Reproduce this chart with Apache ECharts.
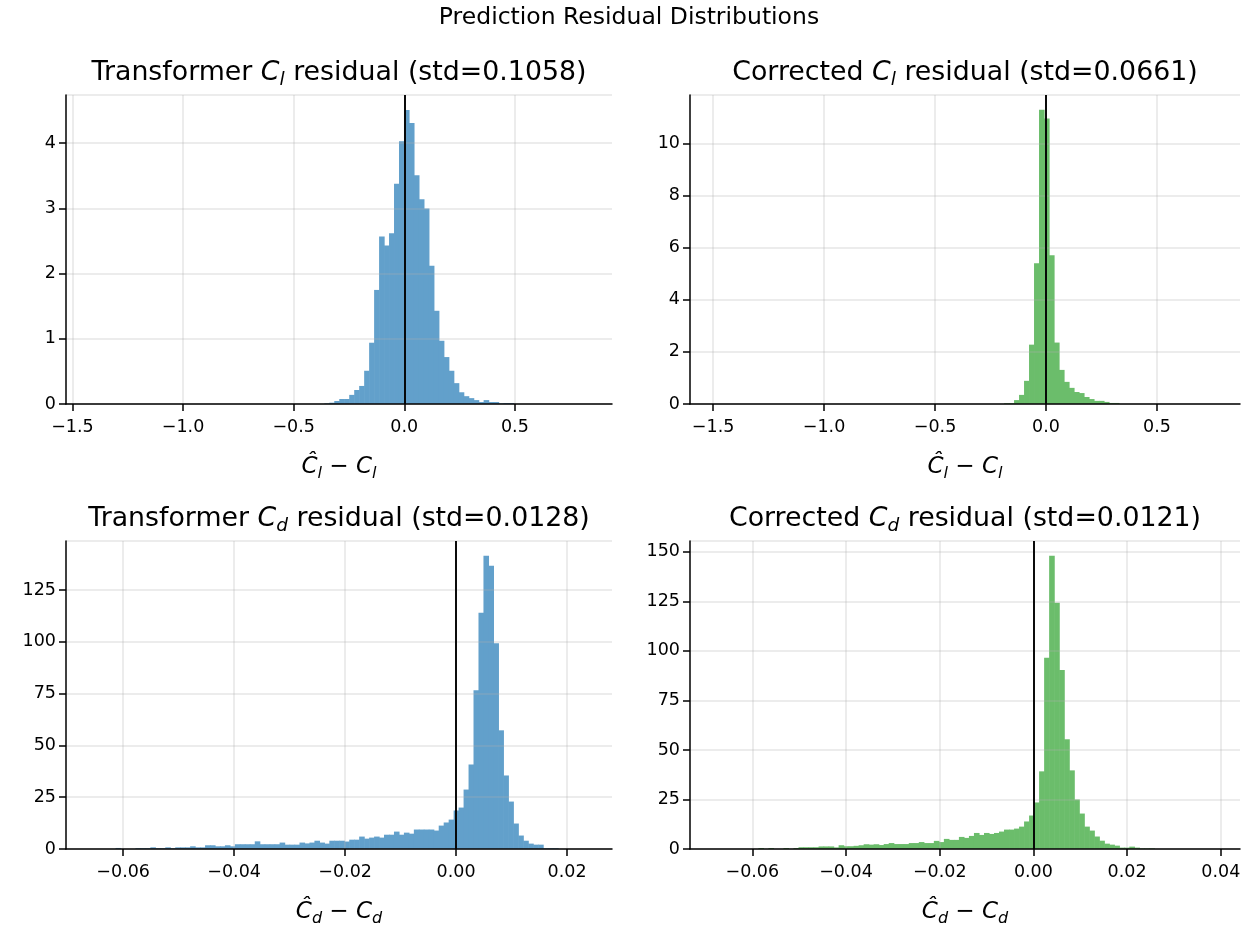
<!DOCTYPE html>
<html>
<head>
<meta charset="utf-8">
<script src="https://cdn.jsdelivr.net/npm/echarts@6.0.0/dist/echarts.min.js"></script>
<style>
html,body{margin:0;padding:0;background:#fff;}
#chart{width:1255px;height:930px;}
</style>
</head>
<body>
<div id="chart"></div>
<script>
// ---------------- DATA ----------------
const suptitleText = 'Prediction Residual Distributions';

// Transformer C_l residual histogram (density)
const clTransBinStart = -0.3613;
const clTransBinWidth = 0.0225;
const clTransDensity = [0.01, 0.02, 0.046, 0.077, 0.077, 0.14, 0.215, 0.277, 0.51, 0.94, 1.75, 2.57, 2.43, 2.62, 3.38, 4.03,
  4.51, 4.31, 3.51, 3.14, 3.0, 2.12, 1.43, 0.97, 0.72, 0.51, 0.32, 0.18, 0.12, 0.09, 0.06, 0.03, 0.06, 0.03, 0.03, 0.01, 0.015, 0.015];

// Corrected C_l residual histogram (density)
const clCorrBinStart = -0.189;
const clCorrBinWidth = 0.0225;
const clCorrDensity = [0.03, 0.03, 0.15, 0.35, 0.89, 2.28, 5.41, 11.3, 10.97, 5.71, 2.36, 1.31, 0.85, 0.62, 0.46, 0.42, 0.27, 0.19, 0.12, 0.12, 0.08, 0.04, 0.04];

// Transformer C_d residual histogram (density)
const cdTransBinStart = -0.06137;
const cdTransBinWidth = 0.000896;
const cdTransDensity = [0.5, 0, 0, 0, 0.4, 0.4, 0.4, 0.8, 0.4, 0.4, 0.8, 0.4, 0.8, 0.8, 0.8, 1.3, 0.8, 0.8, 1.8, 1.8,
  1.3, 1.3, 1.8, 1.3, 2.3, 2.3, 2.3, 2.3, 3.7, 2.3, 2.3, 2.3, 2.3, 3.1, 2.1, 2.1, 2.1, 3.1, 2.7, 3.1,
  4.0, 3.1, 2.6, 4.0, 4.0, 4.0, 3.6, 4.5, 4.5, 6.0, 5.0, 5.5, 6.0, 5.5, 6.9, 6.9, 8.4, 6.9, 7.9, 7.4,
  9.4, 9.4, 9.4, 9.4, 8.9, 11.3, 12.8, 14.2, 18.6, 20.0, 28.7, 40.8, 76.7, 114, 141.6, 136.8, 99.3, 57.3, 35.5, 22.9,
  12.3, 6.5, 4.0, 2.6, 2.1, 2.1, 0.4, 0.4, 0.4];

// Corrected C_d residual histogram (density)
const cdCorrBinStart = -0.0587;
const cdCorrBinWidth = 0.00107;
const cdCorrDensity = [0.5, 0, 0.5, 0, 0, 0.5, 0, 0.5, 0.9, 0.9, 0.9, 0.9, 1.3, 1.3, 1.3, 0.8, 1.9, 1.4, 1.4, 1.6,
  1.9, 2.4, 2.2, 2.4, 2.0, 2.5, 3.0, 2.5, 2.5, 2.5, 3.0, 3.0, 3.5, 3.0, 3.0, 4.1, 3.5, 5.1, 4.6, 4.6,
  6.1, 5.6, 6.6, 8.1, 7.1, 8.1, 7.6, 8.1, 8.8, 9.8, 9.8, 10.3, 11.3, 13.9, 16.9,
  23.5, 39.2, 96.5, 148.1, 124.3, 90.4, 55.4, 39.7, 25.0, 17.9, 11.3, 9.3, 6.3, 4.2, 2.7, 2.2, 1.7, 0.7, 0.7, 1.2, 0.7, 0.3, 0.3, 0.3];

// Axis ticks
const clXTicks = [-1.5, -1.0, -0.5, 0.0, 0.5];
const cdTransXTicks = [-0.06, -0.04, -0.02, 0.0, 0.02];
const cdCorrXTicks = [-0.06, -0.04, -0.02, 0.0, 0.02, 0.04];

const panelTitles = [
  ['Transformer ', 'l', ' residual (std=0.1058)'],
  ['Corrected ', 'l', ' residual (std=0.0661)'],
  ['Transformer ', 'd', ' residual (std=0.0128)'],
  ['Corrected ', 'd', ' residual (std=0.0121)']
];
const xNameSubs = ['l', 'l', 'd', 'd'];

// ---------------- LAYOUT / STYLE ----------------
const FONT = 'DejaVu Sans';
const BLUE = '#62a0cb';
const GREEN = '#6bbd6b';
const grids = [
  {left: 66, top: 95, width: 546, height: 309},
  {left: 690, top: 95, width: 550, height: 309},
  {left: 66, top: 541, width: 546, height: 308},
  {left: 690, top: 541, width: 550, height: 308}
];
const panels = [
  {xmin: -1.529, xmax: 0.939, ymax: 4.74, yint: 1, ticks: clXTicks, dec: 1, start: clTransBinStart, w: clTransBinWidth, vals: clTransDensity, color: BLUE},
  {xmin: -1.604, xmax: 0.874, ymax: 11.87, yint: 2, ticks: clXTicks, dec: 1, start: clCorrBinStart, w: clCorrBinWidth, vals: clCorrDensity, color: GREEN},
  {xmin: -0.0703, xmax: 0.0281, ymax: 148.7, yint: 25, ticks: cdTransXTicks, dec: 2, start: cdTransBinStart, w: cdTransBinWidth, vals: cdTransDensity, color: BLUE},
  {xmin: -0.0733, xmax: 0.0441, ymax: 155.5, yint: 25, ticks: cdCorrXTicks, dec: 2, start: cdCorrBinStart, w: cdCorrBinWidth, vals: cdCorrDensity, color: GREEN}
];

function fmt(dec) {
  return function (v) {
    const s = Math.abs(v).toFixed(dec);
    return (v < -1e-12 ? '\u2212' : '') + s;
  };
}
function histData(start, w, vals) {
  return vals.map((v, i) => [start + i * w, start + (i + 1) * w, v]);
}

const gridLineStyle = {color: 'rgba(176,176,176,0.32)', width: 1.5};
const spine = {color: '#000', width: 1.5};
const TICKFS = 17.5;

const xAxes = [], yAxes = [], series = [];
panels.forEach((p, k) => {
  xAxes.push({
    type: 'value', gridIndex: k, min: p.xmin, max: p.xmax, z: 3,
    axisLine: {show: true, onZero: false, lineStyle: spine},
    axisTick: {show: true, customValues: p.ticks, length: 7, lineStyle: spine},
    axisLabel: {customValues: p.ticks, formatter: fmt(p.dec), fontSize: TICKFS, fontFamily: FONT, color: '#000', margin: 14},
    splitLine: {show: true, lineStyle: gridLineStyle}
  });
  yAxes.push({
    type: 'value', gridIndex: k, min: 0, max: p.ymax, interval: p.yint, z: 3,
    axisLine: {show: true, onZero: false, lineStyle: spine},
    axisTick: {show: true, length: 7, lineStyle: spine},
    axisLabel: {fontSize: TICKFS, fontFamily: FONT, color: '#000', margin: 10, showMaxLabel: false},
    splitLine: {show: true, lineStyle: gridLineStyle}
  });
  const color = p.color;
  series.push({
    type: 'custom', xAxisIndex: k, yAxisIndex: k, z: 2, silent: true,
    encode: {x: [0, 1], y: 2},
    data: histData(p.start, p.w, p.vals),
    renderItem: function (params, api) {
      const a = api.coord([api.value(0), 0]);
      const b = api.coord([api.value(1), api.value(2)]);
      return {
        type: 'rect',
        shape: {x: a[0], y: b[1], width: b[0] - a[0] + 0.6, height: a[1] - b[1]},
        style: {fill: color}
      };
    }
  });
  series.push({
    type: 'line', xAxisIndex: k, yAxisIndex: k, z: 6, data: [], silent: true,
    markLine: {
      silent: true, symbol: ['none', 'none'], animation: false,
      label: {show: false},
      lineStyle: {color: '#000', width: 1.9, type: 'solid'},
      emphasis: {disabled: true},
      data: [{xAxis: 0}]
    }
  });
});

// Titles and axis names as rich text
function titleRich(fs, fss, lh) {
  return {
    n: {fontSize: fs, fontFamily: FONT, color: '#000', lineHeight: lh},
    i: {fontSize: fs, fontFamily: FONT, fontStyle: 'italic', color: '#000', lineHeight: lh},
    s: {fontSize: fss, fontFamily: FONT, fontStyle: 'italic', color: '#000', lineHeight: 12, verticalAlign: 'bottom'}
  };
}
const graphics = [{
  type: 'text', x: 629, y: 18,
  style: {text: suptitleText, fontSize: 23.5, fontFamily: FONT, fill: '#000', align: 'center', verticalAlign: 'middle'}
}];
grids.forEach((g, k) => {
  const cx = g.left + g.width / 2;
  const t = panelTitles[k];
  graphics.push({
    type: 'text', x: cx, y: g.top - 22,
    style: {
      text: '{n|' + t[0] + '}{i|C}{s|' + t[1] + '}{n|' + t[2] + '}',
      rich: titleRich(26.8, 18.5, 34), align: 'center', verticalAlign: 'middle'
    }
  });
  const sub = xNameSubs[k];
  graphics.push({
    type: 'text', x: cx, y: g.top + g.height + 63,
    style: {
      text: '{i|\u0108}{s|' + sub + '}{n| \u2212 }{i|C}{s|' + sub + '}',
      rich: titleRich(23, 16, 30), align: 'center', verticalAlign: 'middle'
    }
  });
});

const chart = echarts.init(document.getElementById('chart'), null, {renderer: 'canvas'});
chart.setOption({
  animation: false,
  backgroundColor: '#fff',
  grid: grids.map(g => Object.assign({containLabel: false}, g)),
  xAxis: xAxes,
  yAxis: yAxes,
  series: series,
  graphic: graphics
});
</script>
</body>
</html>
